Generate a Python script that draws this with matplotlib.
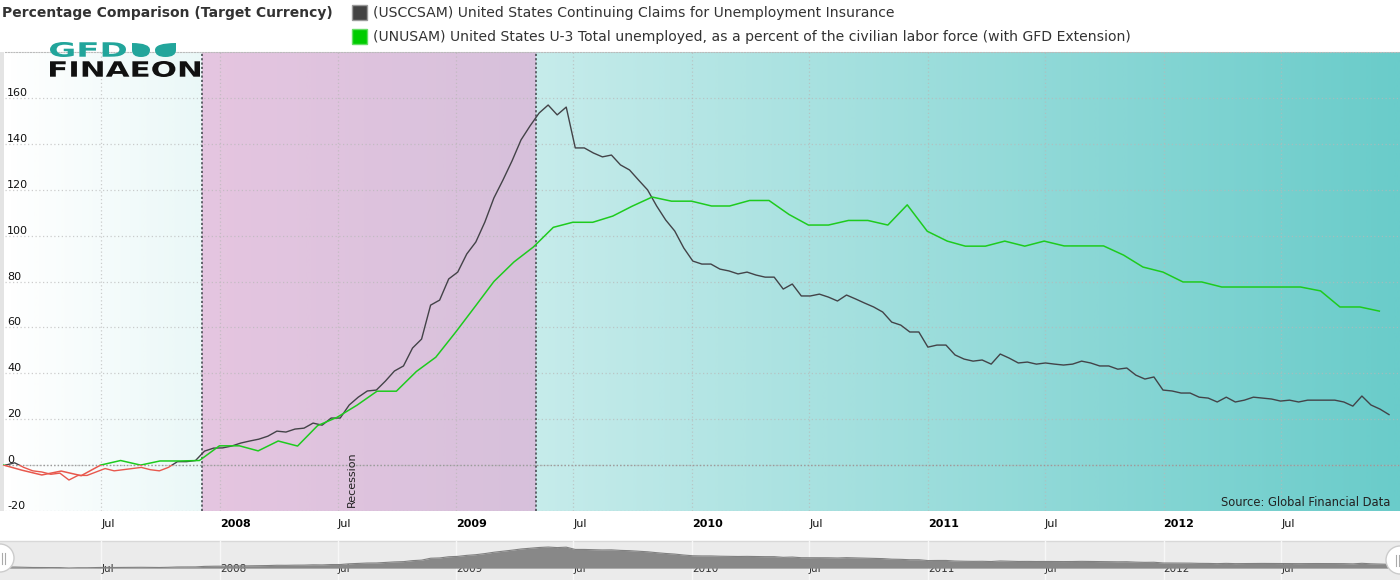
import numpy as np
import matplotlib
matplotlib.use("Agg")
import matplotlib.pyplot as plt
import matplotlib.dates as mdates
from matplotlib.patches import Rectangle, Circle, PathPatch
from matplotlib.path import Path
from matplotlib.textpath import TextPath
from matplotlib.font_manager import FontProperties
from matplotlib.transforms import Affine2D
from matplotlib.colors import LinearSegmentedColormap

plt.rcParams['font.family'] = ['DejaVu Sans']

# ---------------- data ----------------
TITLE = "Percentage Comparison (Target Currency)"
claims_name = "(USCCSAM) United States Continuing Claims for Unemployment Insurance"
unemp_name = ("(UNUSAM) United States U-3 Total unemployed, as a percent of the "
              "civilian labor force (with GFD Extension)")
source_text = "Source: Global Financial Data"
recession_label = "Recession"

# bi-weekly readings of the continuing claims series (% change)
claims_first_date = "2007-02-03"
claims_step_days = 14
claims_values = [
    0, 1, -1, -2.5, -3, -4, -3.5, -6.5, -4.5, -4.5, -3, -1.5, -2.5, -2, -1.5, -1,
    -2, -2.5, -1, 1.5, 1.5, 2,
    6.1, 7.4, 7.5, 8.3, 9.6, 10.5, 11.3, 12.6, 14.8, 14.4, 15.7, 16.1, 18.3, 17.4,
    20.5, 20.5, 26.2, 29.6, 32.3, 32.7, 36.6, 41.0, 43.2, 51.0, 54.9, 69.7, 71.9,
    81.1, 84.1, 92.0, 97.2, 105.9, 116.4, 124.2, 132.5, 141.7, 147.8, 153.4, 156.9,
    152.6, 156.0, 138.2, 138.2, 136.0, 134.3, 135.1, 130.8, 128.6, 124.2, 119.9,
    112.9, 106.8, 102.0, 94.6, 88.9, 87.6, 87.6, 85.4, 84.6, 83.3, 84.1, 82.8, 81.9,
    81.9, 76.7, 78.9, 73.7, 73.7, 74.5, 73.2, 71.5, 74.1, 72.4, 70.6, 68.9, 66.7,
    62.3, 61.0, 58.0, 58.0, 51.4, 52.3, 52.3, 48.0, 46.2, 45.3, 45.8, 44.0, 48.4,
    46.6, 44.5, 44.9, 44.0, 44.5, 44.0, 43.6, 44.0, 45.3, 44.5, 43.2, 43.2, 41.8,
    42.3, 39.2, 37.5, 38.4, 32.7, 32.3, 31.4, 31.4, 29.6, 29.2, 27.5, 29.6, 27.5,
    28.3, 29.6, 29.2, 28.8, 27.9, 28.3, 27.5, 28.3, 28.3, 28.3, 28.3, 27.5, 25.7,
    30.1, 26.2, 24.4, 22.0,
]

# monthly (end of month) readings of the U-3 series (% change)
unemp_first_month = "2007-01"
unemp_values = [
    0.0, -2.2, -4.3, -2.6, -4.6, 0.0, 2.0, 0.0, 1.8, 1.8, 2.0, 8.4,
    8.4, 6.2, 10.5, 8.3, 17.2, 20.8, 26.1, 32.2, 32.2, 40.8, 47.0, 58.0,
    69.5, 80.0, 88.5, 95.0, 103.6, 105.8, 105.8, 108.5, 112.8, 116.8, 115.0, 115.0,
    112.9, 112.9, 115.3, 115.3, 109.2, 104.6, 104.6, 106.6, 106.6, 104.6, 113.4, 101.9,
    97.6, 95.4, 95.4, 97.6, 95.4, 97.6, 95.5, 95.5, 95.5, 91.5, 86.3, 84.1,
    79.8, 79.8, 77.6, 77.6, 77.6, 77.6, 77.6, 75.9, 68.9, 68.9, 67.1,
]

recession_start = "2007-12-04"
recession_end = "2009-05-04"
recession_label_date = "2008-07-23"

x_tick_dates = ["2007-07-01", "2008-01-01", "2008-07-01", "2009-01-01", "2009-07-01",
                "2010-01-01", "2010-07-01", "2011-01-01", "2011-07-01", "2012-01-01",
                "2012-07-01"]
x_tick_labels = ["Jul", "2008", "Jul", "2009", "Jul", "2010", "Jul", "2011", "Jul",
                 "2012", "Jul"]
y_ticks = [-20, 0, 20, 40, 60, 80, 100, 120, 140, 160]
x_range = ("2007-02-02", "2013-01-01")
y_range = (-20, 180)

# ---------------- styles ----------------
CLAIMS_COLOR = "#434348"
UNEMP_COLOR = "#1ecb1e"
NEG_COLOR = "#e8584d"
W, H = 1400, 580

claims_dates = (np.datetime64(claims_first_date)
                + np.arange(len(claims_values)) * np.timedelta64(claims_step_days, "D"))
months = np.datetime64(unemp_first_month) + np.arange(len(unemp_values))
unemp_dates = (months + 1).astype("datetime64[D]") - np.timedelta64(1, "D")
claims_arr = np.array(claims_values, dtype=float)
unemp_arr = np.array(unemp_values, dtype=float)
xlim = (np.datetime64(x_range[0]), np.datetime64(x_range[1]))
tick_dates = np.array(x_tick_dates, dtype="datetime64[D]")


def fx(px):
    return px / W


def fy(py):
    return 1 - py / H


fig = plt.figure(figsize=(W / 100, H / 100), dpi=100)
fig.patch.set_facecolor("white")

# ---- background canvas (pixel coords) ----
bg = fig.add_axes([0, 0, 1, 1], zorder=0)
bg.set_axis_off()
grad = np.linspace(0, 1, 600).reshape(1, -1)
cmap = LinearSegmentedColormap.from_list("bg", ["#ffffff", "#6accca"])
bg.imshow(grad, extent=[5, 1400, 511, 52], aspect="auto", cmap=cmap,
          interpolation="bilinear", zorder=0)
bg.add_patch(Rectangle((0, 52), 4, 459, fc="#e4e4e4", ec="none", zorder=1))
bg.add_patch(Rectangle((0, 541), 1400, 39, fc="#ebebeb", ec="none", zorder=1))
bg.plot([0, 1400], [540.5, 540.5], color="#d8d8d8", lw=1, zorder=2)
bg.set_xlim(0, W)
bg.set_ylim(H, 0)

# ---- main chart ----
ax = fig.add_axes([fx(5), fy(511), fx(1400) - fx(5), fy(52) - fy(511)], zorder=1)
ax.patch.set_alpha(0)
ax.axvspan(np.datetime64(recession_start), np.datetime64(recession_end),
           color=(226 / 255, 164 / 255, 209 / 255), alpha=0.6, lw=0, zorder=0.3)
for d in (recession_start, recession_end):
    ax.axvline(np.datetime64(d), color="#555a60", lw=1.3, ls=(0, (1.2, 1.2)), zorder=1.5)

ax.set_axisbelow(True)
ax.grid(True, color="#b8b8b8", lw=0.9, ls=(0, (1, 2)), alpha=0.7)
ax.axhline(0, color="#9a9a9a", lw=1.0, ls=(0, (1, 1.5)), zorder=1)


def zoned_plot(axis, x, y, color, lw, z):
    xn = mdates.date2num(x)
    base = xn.min() - 5000
    pos_clip = Rectangle((base, 0), 20000, 1e5, transform=axis.transData)
    neg_clip = Rectangle((base, -1e5), 20000, 1e5, transform=axis.transData)
    l1, = axis.plot(x, y, color=color, lw=lw, zorder=z, solid_joinstyle="round")
    l1.set_clip_path(pos_clip)
    l2, = axis.plot(x, y, color=NEG_COLOR, lw=lw, zorder=z, solid_joinstyle="round")
    l2.set_clip_path(neg_clip)


zoned_plot(ax, claims_dates, claims_arr, CLAIMS_COLOR, 1.0, 3)
zoned_plot(ax, unemp_dates, unemp_arr, UNEMP_COLOR, 1.1, 4)

ax.set_xlim(*xlim)
ax.set_ylim(*y_range)
ax.set_xticks(tick_dates)
ax.set_xticklabels(x_tick_labels)
ax.set_yticks(y_ticks)
ax.set_yticklabels([str(v) for v in y_ticks])
ax.tick_params(axis="x", length=0, pad=5.5, labelsize=8, colors="#111111")
ax.tick_params(axis="y", length=0, pad=-1.5, labelsize=8, colors="#111111")
for lbl in ax.get_xticklabels():
    lbl.set_horizontalalignment("left")
    if lbl.get_text() != "Jul":
        lbl.set_fontweight("bold")
        lbl.set_color("#000000")
for lbl in ax.get_yticklabels():
    lbl.set_horizontalalignment("left")
    lbl.set_verticalalignment("bottom")
for s in ("left", "right", "bottom"):
    ax.spines[s].set_visible(False)
ax.spines["top"].set_color("#bbbbbb")
ax.spines["top"].set_linestyle((0, (1, 1.5)))
ax.spines["top"].set_linewidth(0.8)

ax.text(np.datetime64(recession_label_date), -18.2, recession_label, rotation=90,
        ha="center", va="bottom", fontsize=8, color="#222222", zorder=5)
ax.text((1390 - 5) / 1395, (511 - 502) / 459, source_text, transform=ax.transAxes,
        ha="right", va="center", fontsize=8.3, color="#222222", zorder=5)

# ---- navigator ----
nav = fig.add_axes([fx(5), 0, fx(1400) - fx(5), fy(541)], zorder=1)
nav.patch.set_alpha(0)
nav_floor = -7.6
nav.fill_between(claims_dates, claims_arr, nav_floor, color="#888888", lw=0, zorder=2)
nav.plot(claims_dates, claims_arr, color="#808080", lw=0.8, zorder=2.5)
nav.set_xlim(*xlim)
nav.set_ylim(-100, 204)
nav.set_xticks(tick_dates)
nav.set_xticklabels(x_tick_labels)
nav.set_yticks([])
nav.grid(True, axis="x", color="#f7f7f7", lw=1.0, zorder=1)
nav.set_axisbelow(True)
nav.tick_params(axis="x", length=0, pad=-4.0, labelsize=7.5, colors="#333333")
for lbl in nav.get_xticklabels():
    lbl.set_horizontalalignment("left")
    lbl.set_verticalalignment("bottom")
for s in nav.spines.values():
    s.set_visible(False)

# ---- overlay (title, legend, logo, handles) ----
ov = fig.add_axes([0, 0, 1, 1], zorder=5)
ov.set_axis_off()
ov.patch.set_alpha(0)
ov.set_xlim(0, W)
ov.set_ylim(H, 0)

ov.text(2, 13, TITLE, ha="left", va="center", fontsize=10, fontweight="bold",
        color="#333333")
ov.add_patch(Rectangle((352, 5), 15, 15, fc="#434343", ec="#9a9a9a", lw=1))
ov.text(373, 13, claims_name, ha="left", va="center", fontsize=10.1, color="#333333")
ov.add_patch(Rectangle((352, 29), 15, 15, fc="#00cc00", ec="#66dd66", lw=1))
ov.text(373, 37, unemp_name, ha="left", va="center", fontsize=10.05, color="#333333")


def boxed_text(axo, s, x0, y0, x1, y1, color):
    tp = TextPath((0, 0), s, size=10,
                  prop=FontProperties(family="DejaVu Sans", weight="bold"))
    bb = tp.get_extents()
    sx = (x1 - x0) / bb.width
    sy = (y1 - y0) / bb.height
    tr = (Affine2D().translate(-bb.x0, -bb.y0).scale(sx, -sy).translate(x0, y1)
          + axo.transData)
    axo.add_patch(PathPatch(tp, fc=color, ec="none", transform=tr))


def leaf(axo, x0, y0, x1, y1, sharp_left, color):
    xm, ym = (x0 + x1) / 2, (y0 + y1) / 2
    if sharp_left:
        verts = [(x0, y0), (x1, y0), (x1, ym), (x1, y1), (xm, y1), (x0, y1), (x0, ym),
                 (x0, y0), (x0, y0)]
    else:
        verts = [(x1, y0), (x0, y0), (x0, ym), (x0, y1), (xm, y1), (x1, y1), (x1, ym),
                 (x1, y0), (x1, y0)]
    codes = [Path.MOVETO, Path.CURVE3, Path.CURVE3, Path.CURVE3, Path.CURVE3,
             Path.CURVE3, Path.CURVE3, Path.LINETO, Path.CLOSEPOLY]
    axo.add_patch(PathPatch(Path(verts, codes), fc=color, ec="none"))


TEAL = "#22a59b"
boxed_text(ov, "GFD", 50, 42, 126, 57, TEAL)
leaf(ov, 132, 43, 150, 57, True, TEAL)
leaf(ov, 155, 43, 176, 57, False, TEAL)
boxed_text(ov, "FINAEON", 50, 61, 200, 77, "#111111")

# navigator handles
for cx, cy in ((0, 558), (1400, 560)):
    ov.add_patch(Circle((cx, cy), 14, fc="#ffffff", ec="#cccccc", lw=1))
for xx in (1.5, 4.5):
    ov.plot([xx, xx], [553, 564], color="#aaaaaa", lw=0.8)
for xx in (1395.5, 1398.5):
    ov.plot([xx, xx], [555, 566], color="#aaaaaa", lw=0.8)

fig.savefig("out.png", dpi=100, facecolor="white")
